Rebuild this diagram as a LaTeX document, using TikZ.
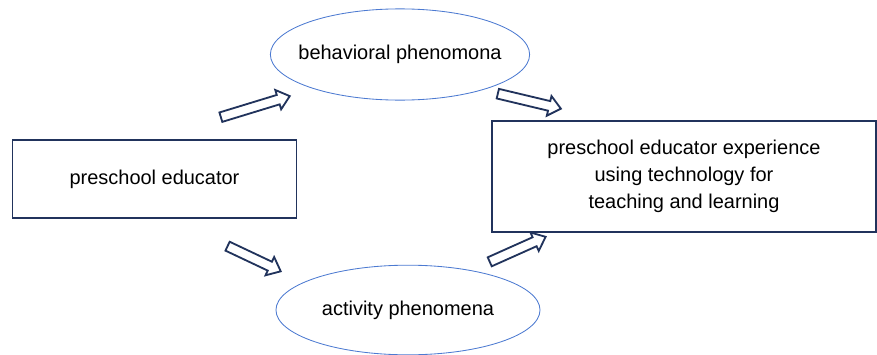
\documentclass[tikz,border=0pt]{standalone}
\usepackage{fontspec}
\setmainfont{Liberation Sans}
\usepackage{tikz}
\usetikzlibrary{shapes.arrows}
\tikzset{box/.style = {draw = mnavy, line width = 1.3pt, inner sep = 0, align = center}}
\tikzset{oval/.style = {draw = mblue, line width = 0.6pt}}
\tikzset{fatarrow/.style = {draw = mnavy, line width = 1.3pt, single arrow, inner sep = 0.1cm,
    single arrow head extend = 0.13cm, single arrow tip angle = 80, fill = white}}
\definecolor{mnavy}{rgb}{0.13, 0.2, 0.36}
\definecolor{mblue}{rgb}{0.3, 0.48, 0.82}

\begin{document}
\begin{tikzpicture}[x = 0.025cm, y = -0.025cm, font = \fontsize{14.2}{19}\selectfont]
      \useasboundingbox (0, 0) rectangle (877, 355);

      \node [box, minimum width = 7.1cm, minimum height = 1.95cm] (educator) at (154.5, 179) {preschool educator};
      \node [box, minimum width = 9.6cm, minimum height = 2.78cm] (experience) at (684, 176.5)
        {preschool educator experience\\using technology for\\teaching and learning};

      \node (behavior) at (400, 54.5) {behavioral phenomona};
      \node (activity) at (408, 310) {activity phenomena};
      \draw [oval] (behavior) ellipse [x radius = 3.24cm, y radius = 1.14cm];
      \draw [oval] (activity) ellipse [x radius = 3.3cm, y radius = 1.12cm];

      \node [fatarrow, rotate = 17, minimum height = 1.8cm] (upleft) at (252.5, 107.5) {};
      \node [fatarrow, rotate = -13.4, minimum height = 1.62cm] (upright) at (526.5, 100.5) {};
      \node [fatarrow, rotate = -25.3, minimum height = 1.47cm] (downleft) at (251.5, 257.5) {};
      \node [fatarrow, rotate = 24.1, minimum height = 1.53cm] (downright) at (515, 250.5) {};
    \end{tikzpicture}
\end{document}
